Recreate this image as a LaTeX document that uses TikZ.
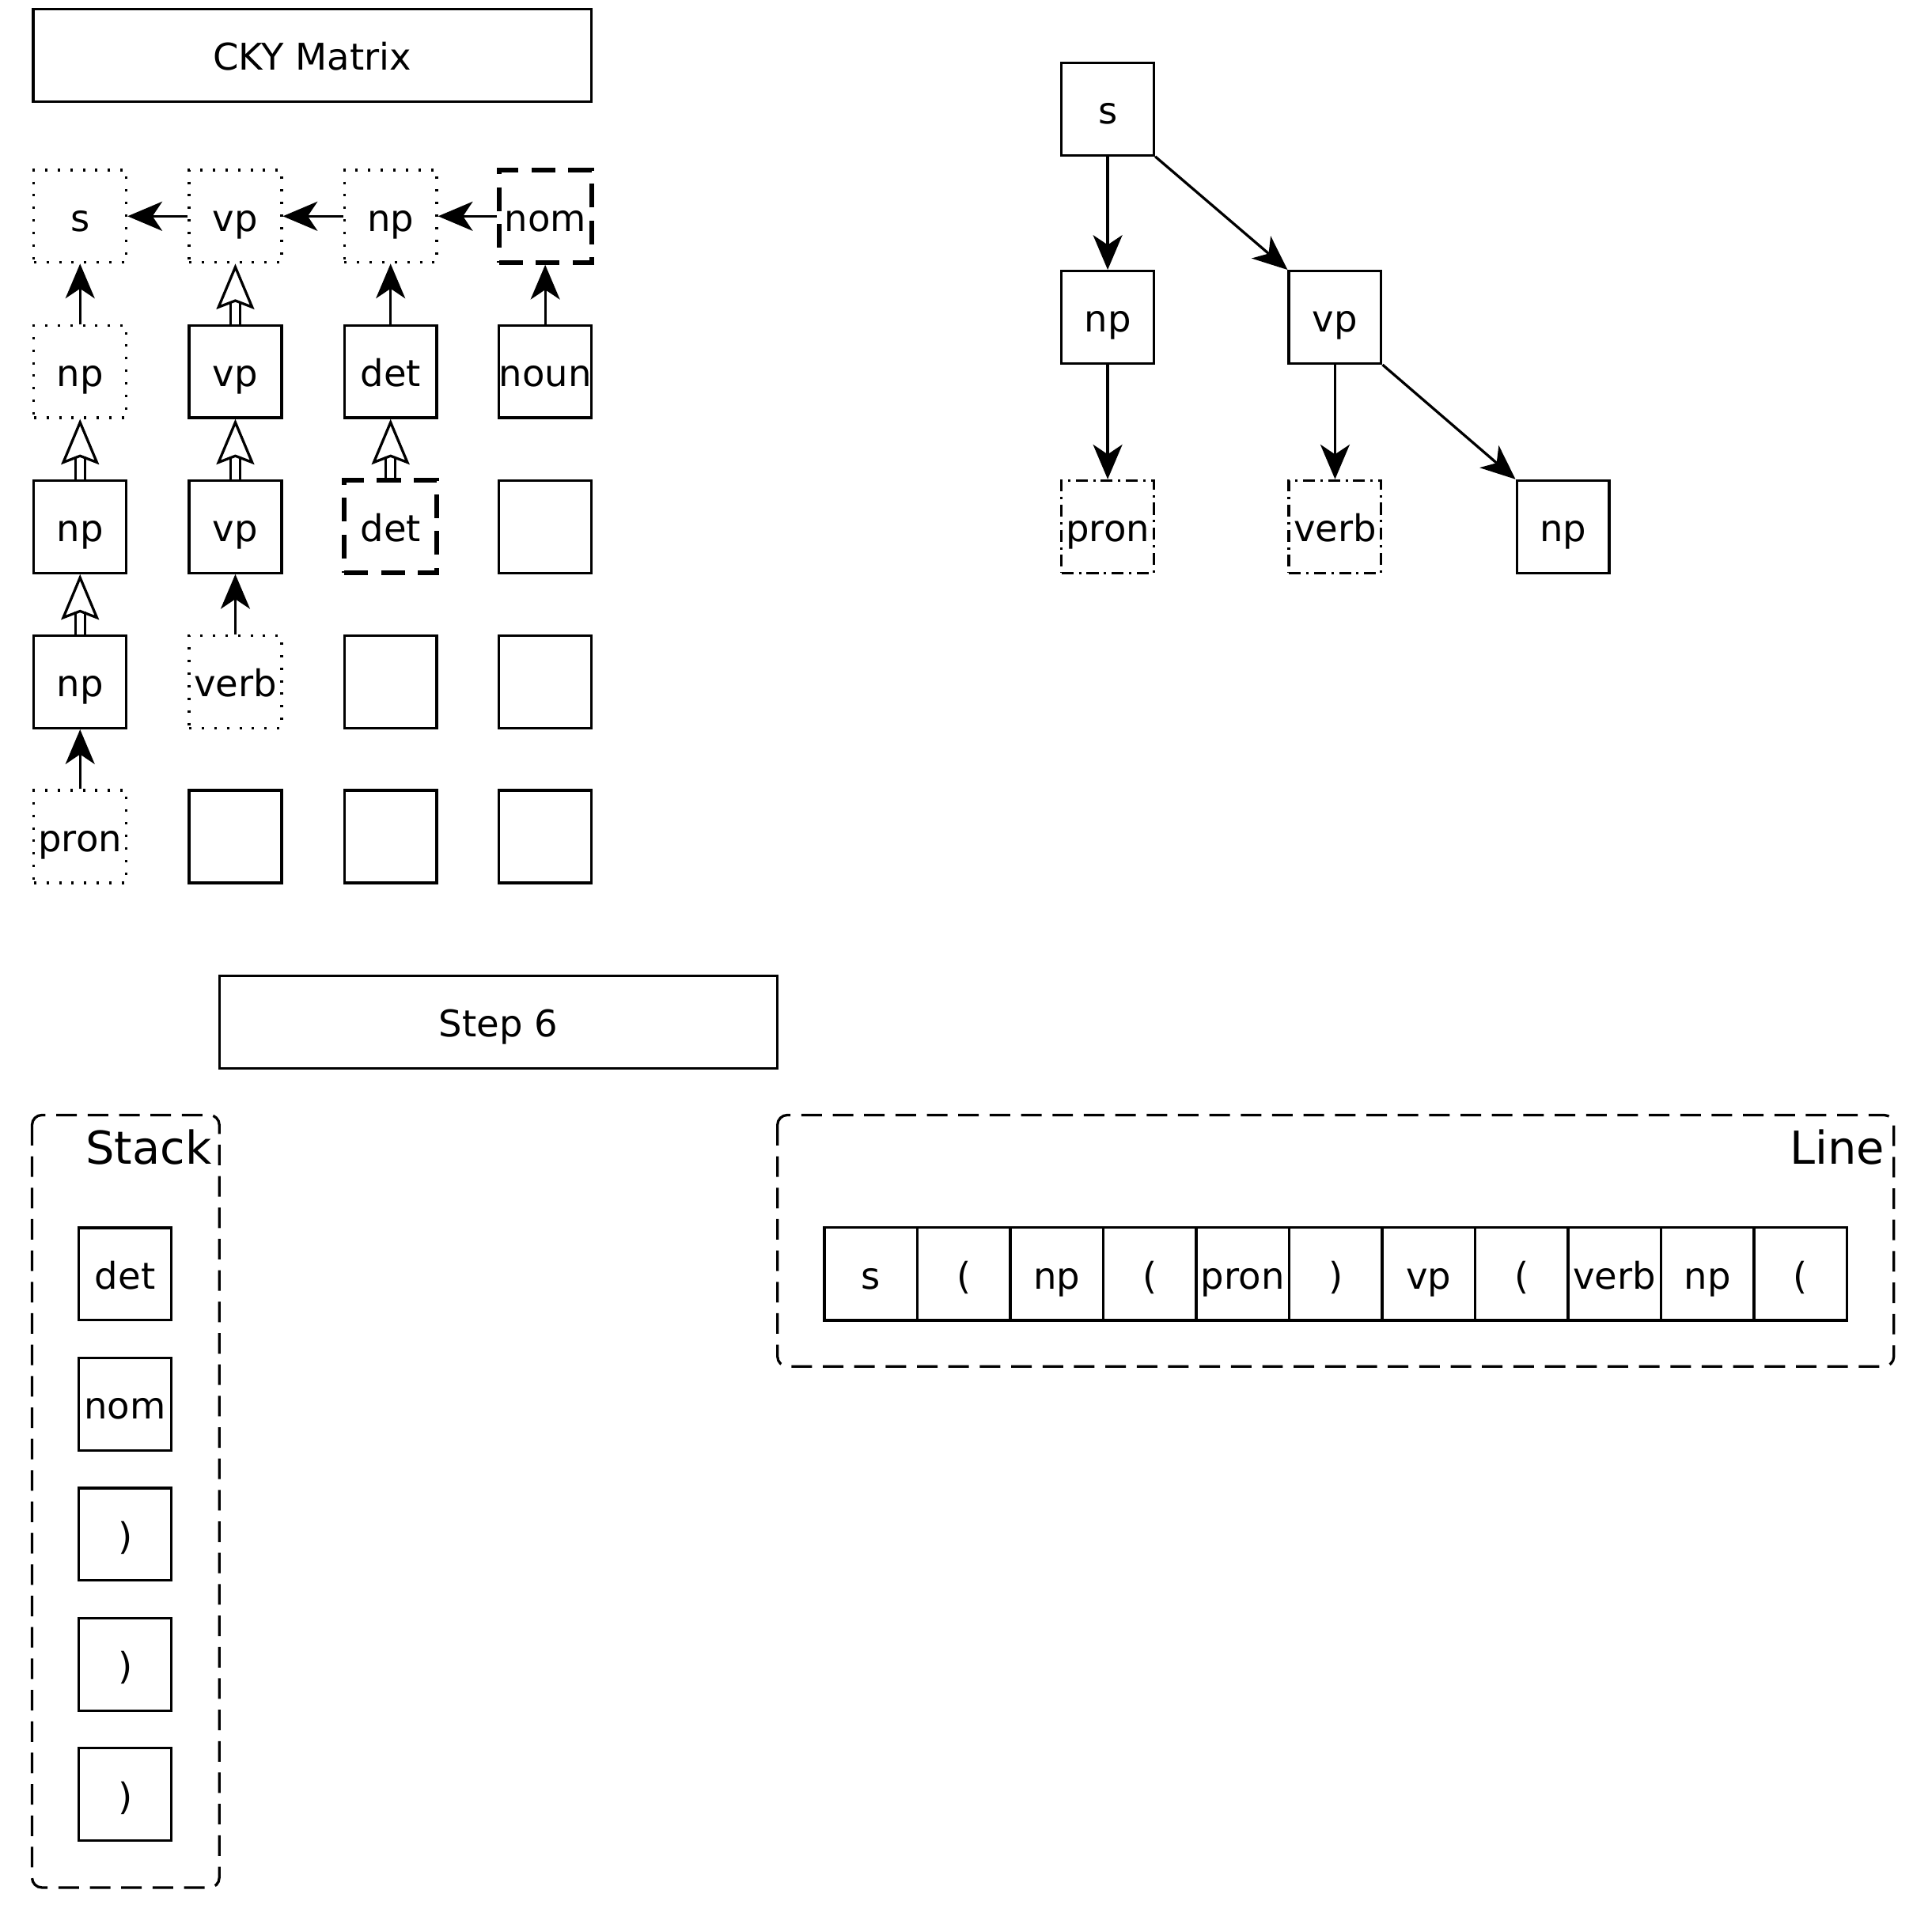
\documentclass[tikz,border=0pt]{standalone}
\usepackage{fontspec}
\setmainfont{DejaVu Sans}
\usetikzlibrary{arrows.meta}
\tikzset{
  cell/.style={draw, line width=1.2pt, minimum size=1.5cm, inner sep=0pt, text height=17.3pt, text depth=3.5pt, font=\fontsize{17}{20}\selectfont},
  dotcell/.style={cell, dash pattern=on 1.1pt off 4.7pt},
  hotcell/.style={cell, line width=2.2pt, dash pattern=on 11pt off 6pt},
  leafcell/.style={cell, dash pattern=on 5.5pt off 2.5pt on 1.1pt off 2.5pt},
  titlebox/.style={draw, line width=1.2pt, minimum width=9.06cm, minimum height=1.5cm, text height=17.3pt, text depth=3.5pt, font=\fontsize{17}{20}\selectfont},
  frame/.style={draw, line width=1.2pt, dash pattern=on 9.5pt off 5pt, rounded corners=0.16cm},
  frametitle/.style={inner sep=0pt, anchor=base east, font=\fontsize{21}{24}\selectfont},
  link/.style={line width=1.2pt, -{Stealth[length=16pt,width=13.5pt,inset=4.5pt]}},
  unit/.style={line width=1.2pt, double distance=3.2pt, -{Stealth[open,length=21pt,width=17.5pt,inset=3.3pt]}},
}
\begin{document}
\begin{tikzpicture}[x=0.02cm,y=-0.02cm]
\useasboundingbox (0,0) rectangle (1568,1561);
% cky matrix
\node[titlebox] (ckytitle) at (253.5,45) {CKY Matrix};
\node[dotcell] (m11) at (65,175.5) {s};
\node[dotcell] (m12) at (191,175.5) {vp};
\node[dotcell] (m13) at (317,175.5) {np};
\node[hotcell] (m14) at (442.5,175.5) {nom};
\node[dotcell] (m21) at (65,301.5) {np};
\node[cell] (m22) at (191,301.5) {vp};
\node[cell] (m23) at (317,301.5) {det};
\node[cell] (m24) at (442.5,301.5) {noun};
\node[cell] (m31) at (65,427.5) {np};
\node[cell] (m32) at (191,427.5) {vp};
\node[hotcell] (m33) at (317,427.5) {det};
\node[cell] (m34) at (442.5,427.5) {};
\node[cell] (m41) at (65,553.5) {np};
\node[dotcell] (m42) at (191,553.5) {verb};
\node[cell] (m43) at (317,553.5) {};
\node[cell] (m44) at (442.5,553.5) {};
\node[dotcell] (m51) at (65,679) {pron};
\node[cell] (m52) at (191,679) {};
\node[cell] (m53) at (317,679) {};
\node[cell] (m54) at (442.5,679) {};
\draw[link] (m12) -- (m11);
\draw[link] (m13) -- (m12);
\draw[link] (m14) -- (m13);
\draw[link] (m21) -- (m11);
\draw[unit] (m22) -- (m12);
\draw[link] (m23) -- (m13);
\draw[link] (m24) -- (m14);
\draw[unit] (m31) -- (m21);
\draw[unit] (m32) -- (m22);
\draw[unit] (m33) -- (m23);
\draw[unit] (m41) -- (m31);
\draw[link] (m42) -- (m32);
\draw[link] (m51) -- (m41);
% parse tree
\node[cell] (ts) at (899,88.5) {s};
\node[cell] (tnp) at (899,257.5) {np};
\node[cell] (tvp) at (1083.5,257.5) {vp};
\node[leafcell] (tpron) at (899,427.5) {pron};
\node[leafcell] (tverb) at (1083.5,427.5) {verb};
\node[cell] (tobj) at (1268.5,427.5) {np};
\draw[link] (ts) -- (tnp);
\draw[link] (ts.south east) -- (tvp.north west);
\draw[link] (tnp) -- (tpron);
\draw[link] (tvp) -- (tverb);
\draw[link] (tvp.south east) -- (tobj.north west);
% step
\node[titlebox] (steptitle) at (404.5,829.5) {Step 6};
% stack
\draw[frame] (26,905) rectangle (178,1532);
\node[frametitle] (stacktitle) at (172,945) {Stack};
\foreach \lbl [count=\i] in {det,nom,{)},{)},{)}}
  \node[cell] (st\i) at (101.5,{1034+105.6*(\i-1)}) {\lbl};
% line
\draw[frame] (631,905) rectangle (1537,1109);
\node[frametitle] (linetitle) at (1530,945) {Line};
\foreach \lbl [count=\i] in {s,{(},np,{(},pron,{)},vp,{(},verb,np,{(}}
  \node[cell, minimum size=1.509cm] (ln\i) at ({706.7+75.45*(\i-1)},1034) {\lbl};
\end{tikzpicture}
\end{document}
